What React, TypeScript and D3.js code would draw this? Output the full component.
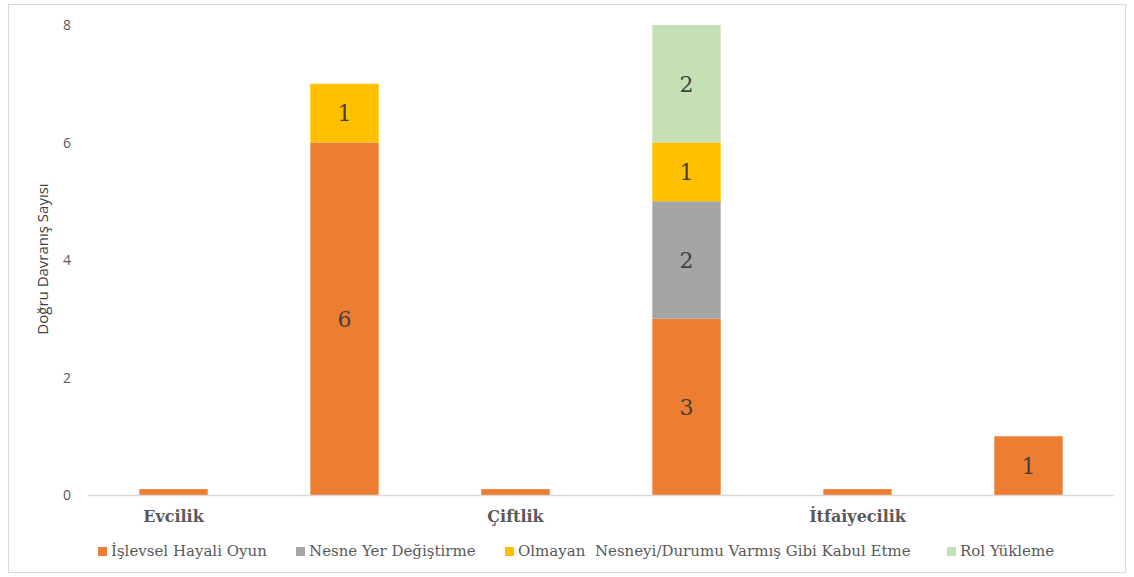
import React from "react";
import * as d3 from "d3";

const categories = ["Evcilik", "Çiftlik", "İtfaiyecilik"];
const barKeys = ["Evcilik-1", "Evcilik-2", "Çiftlik-1", "Çiftlik-2", "İtfaiyecilik-1", "İtfaiyecilik-2"];
const seriesNames = [
  "İşlevsel Hayali Oyun",
  "Nesne Yer Değiştirme",
  "Olmayan  Nesneyi/Durumu Varmış Gibi Kabul Etme",
  "Rol Yükleme",
];
const islevsel = [0.1, 6, 0.1, 3, 0.1, 1];
const nesne = [0, 0, 0, 2, 0, 0];
const olmayan = [0, 1, 0, 1, 0, 0];
const rol = [0, 0, 0, 2, 0, 0];
const yTicks = [0, 2, 4, 6, 8];
const colors = ["#ED7D31", "#A5A5A5", "#FFC000", "#C5E0B4"];
const yTitle = "Doğru Davranış Sayısı";
const legendX = [102, 300, 509, 951];

export default function App() {
  const W = 1134, H = 577;
  const x = d3.scaleBand<string>().domain(barKeys).range([88, 1114]).paddingInner(0.6).paddingOuter(0.3);
  const y = d3.scaleLinear().domain([0, 8]).range([495, 25]);
  const rows = barKeys.map((k, i) => ({ key: k, s0: islevsel[i], s1: nesne[i], s2: olmayan[i], s3: rol[i] }));
  const stack = d3.stack<any>().keys(["s0", "s1", "s2", "s3"]);
  const layers = stack(rows);
  const serif = "'DejaVu Serif', serif";
  const sans = "'Open Sans', 'Liberation Sans', sans-serif";
  return (
    <svg width={W} height={H} style={{ position: "absolute", left: 0, top: 0, background: "#fff" }}>
      <rect x={8.5} y={4.5} width={1117} height={568} fill="#fff" stroke="#d9d9d9" />
      {yTicks.map((t) => (
        <text key={t} x={67} y={y(t) + 5} textAnchor="middle" fontSize={14} fill="#595959" fontFamily={sans}>
          {t}
        </text>
      ))}
      <text
        transform={`translate(48,${y(4) - 1}) rotate(-90)`}
        textAnchor="middle"
        fontSize={15}
        fill="#404040"
        fontFamily={sans}
      >
        {yTitle}
      </text>
      {layers.map((layer, li) =>
        layer.map((d, i) => {
          const v = d[1] - d[0];
          if (v <= 0) return null;
          const bx = x(barKeys[i])!;
          return (
            <g key={`${li}-${i}`}>
              <rect x={bx} y={y(d[1])} width={x.bandwidth()} height={y(d[0]) - y(d[1])} fill={colors[li]} />
              {v >= 1 && (
                <text
                  x={bx + x.bandwidth() / 2}
                  y={(y(d[0]) + y(d[1])) / 2 + 8}
                  textAnchor="middle"
                  fontSize={22}
                  fill="#404040"
                  fontFamily={serif}
                >
                  {v}
                </text>
              )}
            </g>
          );
        })
      )}
      <line x1={88} x2={1114} y1={y(0) + 0.5} y2={y(0) + 0.5} stroke="#d9d9d9" strokeWidth={1.5} />
      {categories.map((c, i) => (
        <text
          key={c}
          x={x(barKeys[i * 2])! + x.bandwidth() / 2}
          y={522}
          textAnchor="middle"
          fontSize={16}
          fontWeight="bold"
          fill="#595959"
          fontFamily={serif}
        >
          {c}
        </text>
      ))}
      {seriesNames.map((s, i) => (
        <g key={s}>
          <rect x={legendX[i] - 4} y={547} width={9} height={9} fill={colors[i]} />
          <text x={legendX[i] + 9} y={556} fontSize={15} fill="#595959" fontFamily={serif} style={{ whiteSpace: "pre" }}>
            {s}
          </text>
        </g>
      ))}
    </svg>
  );
}
